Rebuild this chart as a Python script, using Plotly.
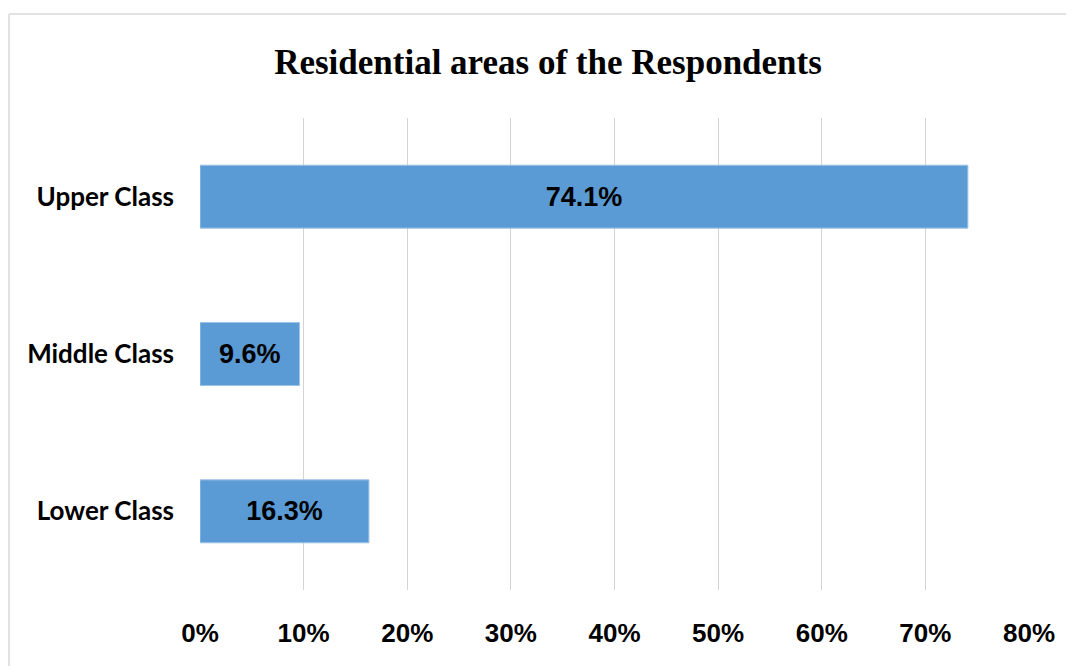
import plotly.graph_objects as go

categories = ["Lower Class", "Middle Class", "Upper Class"]
values = [16.3, 9.6, 74.1]
tick_vals = [0, 10, 20, 30, 40, 50, 60, 70, 80]
tick_text = ["0%", "10%", "20%", "30%", "40%", "50%", "60%", "70%", "80%"]
title = "Residential areas of the Respondents"

fig = go.Figure(go.Bar(
    x=values, y=categories, orientation="h",
    marker=dict(color="#5B9BD5", line=dict(color="#9DC3E6", width=1)),
    width=0.4,
    text=[f"{v:.1f}%" for v in values],
    textposition="inside", insidetextanchor="middle",
    textfont=dict(family="Liberation Sans", size=27, color="black", weight="bold"),
    textangle=0, cliponaxis=False,
))

bx0 = -191 / 829
by1 = (582 - 6) / 472

fig.update_layout(
    width=1066, height=658,
    margin=dict(l=192, r=45, t=110, b=76),
    paper_bgcolor="white", plot_bgcolor="white",
    showlegend=False,
    title=dict(text="<b>" + title + "</b>", x=540 / 1066, xanchor="center", xref="container",
               y=1 - 54 / 658, yanchor="middle",
               font=dict(family="Liberation Serif", size=35, color="black")),
    xaxis=dict(range=[0, 80], tickvals=tick_vals, ticktext=tick_text,
               showgrid=True, gridcolor="#d3d3d3", gridwidth=1, zeroline=False,
               showline=False, ticks="", ticklabelstandoff=25,
               tickfont=dict(family="Liberation Sans", size=26, color="black", weight="bold")),
    yaxis=dict(categoryorder="array", categoryarray=categories, range=[-0.5, 2.5],
               showgrid=False, zeroline=False, showline=False, ticks="",
               ticklabelstandoff=25,
               tickfont=dict(family="Lato", size=26, color="black", weight="bold")),
    shapes=[
        dict(type="line", xref="paper", yref="paper", x0=bx0, x1=bx0, y0=-0.3, y1=by1,
             line=dict(color="#d9d9d9", width=1.5), layer="below"),
        dict(type="line", xref="paper", yref="paper", x0=bx0, x1=1.3, y0=by1, y1=by1,
             line=dict(color="#d9d9d9", width=1.5), layer="below"),
    ],
)

fig.write_html("out.html")
